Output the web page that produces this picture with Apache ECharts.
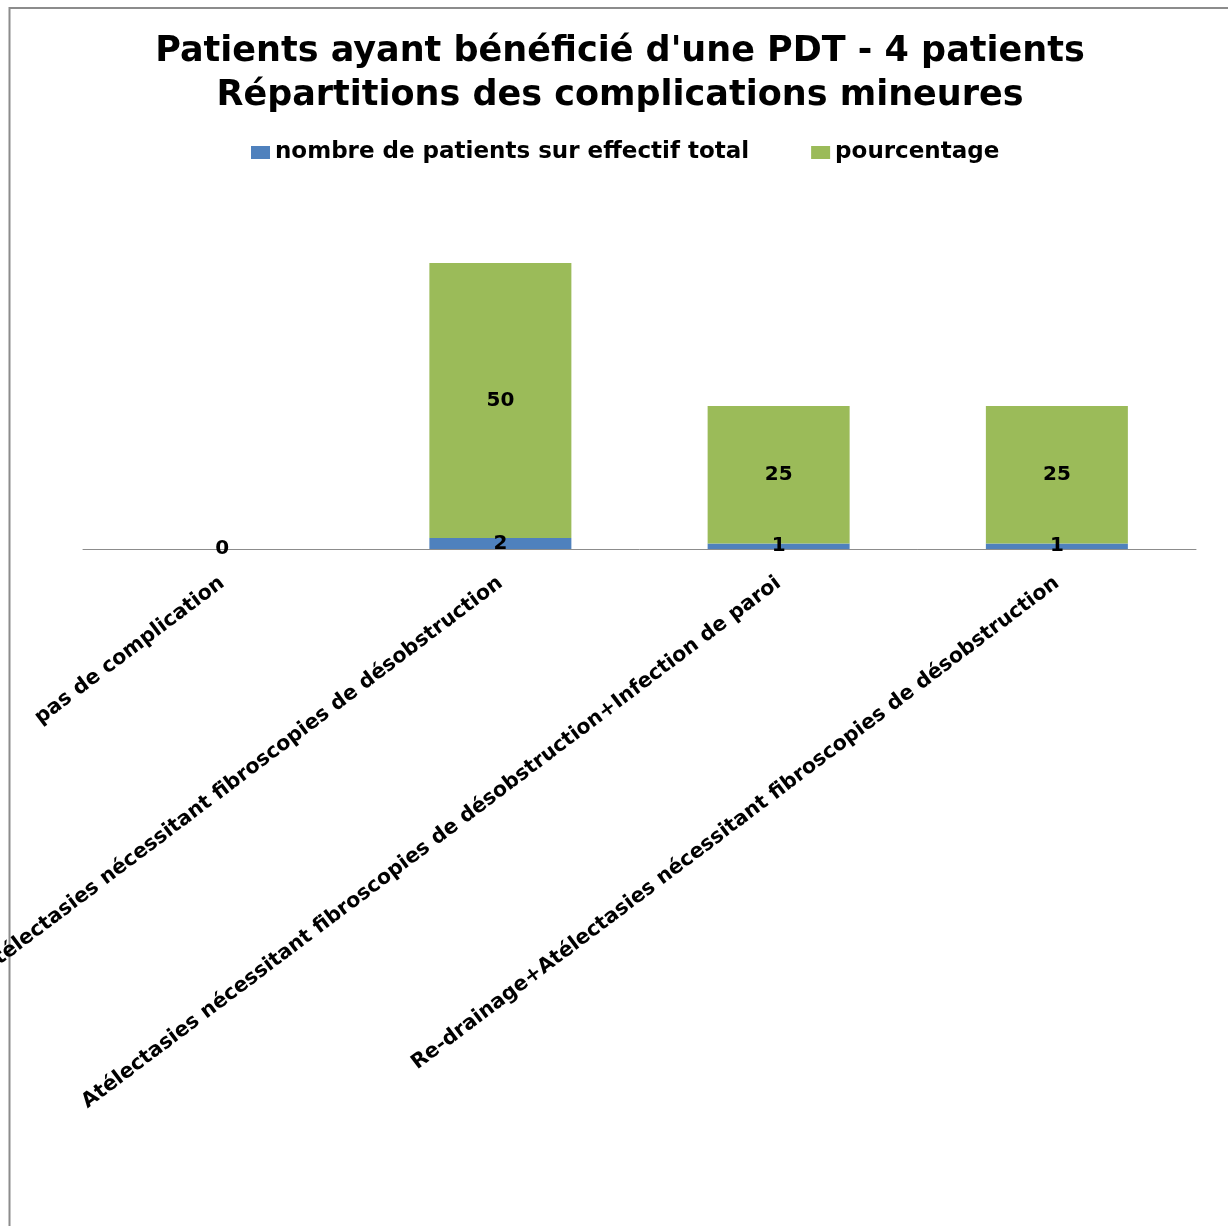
<!DOCTYPE html>
<html>
<head>
<meta charset="utf-8">
<script src="https://cdn.jsdelivr.net/npm/echarts@6/dist/echarts.min.js"></script>
<style>
  html, body { margin: 0; padding: 0; background: #fff; }
  #chart { width: 1228px; height: 1226px; }
</style>
</head>
<body>
<div id="chart"></div>
<script>
// Complications mineures après PDT
const categories = [
  'pas de complication',
  'Atélectasies nécessitant fibroscopies de désobstruction',
  'Atélectasies nécessitant fibroscopies de désobstruction+Infection de paroi',
  'Re-drainage+Atélectasies nécessitant fibroscopies de désobstruction'
];
const nombrePatients = [0, 2, 1, 1];
const pourcentage = [0, 50, 25, 25];
const seriesNames = ['nombre de patients sur effectif total', 'pourcentage'];
const titleLines = [
  "Patients ayant bénéficié d'une PDT - 4 patients",
  'Répartitions des complications mineures'
];

const FONT = '"DejaVu Sans", sans-serif';

const chart = echarts.init(document.getElementById('chart'), null, { renderer: 'canvas' });

chart.setOption({
  backgroundColor: '#ffffff',
  animation: false,
  title: {
    text: titleLines.join('\n'),
    left: 615,
    textAlign: 'center',
    top: 25,
    textStyle: {
      fontFamily: FONT,
      fontSize: 35,
      fontWeight: 'bold',
      color: '#000',
      lineHeight: 44
    }
  },
  legend: {
    top: 136,
    left: 246,
    itemWidth: 19,
    itemHeight: 13,
    itemGap: 62,
    icon: 'rect',
    textStyle: {
      fontFamily: FONT,
      fontSize: 23,
      fontWeight: 'bold',
      color: '#000'
    },
    data: seriesNames
  },
  grid: {
    left: 83,
    right: 32,
    top: 219,
    bottom: 677,
    containLabel: false,
    outerBoundsMode: 'none'
  },
  xAxis: {
    type: 'category',
    data: categories,
    axisLine: { show: true, lineStyle: { color: '#8c8c8c', width: 1 } },
    axisTick: { show: false },
    axisLabel: {
      interval: 0,
      rotate: 37,
      margin: 32,
      fontFamily: FONT,
      fontSize: 20.5,
      fontWeight: 'bold',
      color: '#000'
    }
  },
  yAxis: {
    type: 'value',
    min: 0,
    max: 60,
    show: false,
    splitLine: { show: false }
  },
  graphic: [{
    type: 'rect',
    silent: true,
    shape: { x: 9.5, y: 8, width: 1400, height: 1400 },
    style: { fill: 'none', stroke: '#8c8c8c', lineWidth: 2 }
  }],
  series: [
    {
      name: seriesNames[0],
      type: 'bar',
      stack: 'total',
      barWidth: 142,
      data: nombrePatients,
      itemStyle: { color: '#4f81bd' },
      label: {
        show: true,
        position: 'inside',
        fontFamily: FONT,
        fontSize: 20,
        fontWeight: 'bold',
        color: '#000'
      }
    },
    {
      name: seriesNames[1],
      type: 'bar',
      stack: 'total',
      barWidth: 142,
      data: pourcentage,
      itemStyle: { color: '#9bbb59' },
      label: {
        show: true,
        position: 'inside',
        fontFamily: FONT,
        fontSize: 20,
        fontWeight: 'bold',
        color: '#000',
        formatter: p => (p.value ? String(p.value) : '')
      }
    }
  ]
});
</script>
</body>
</html>
